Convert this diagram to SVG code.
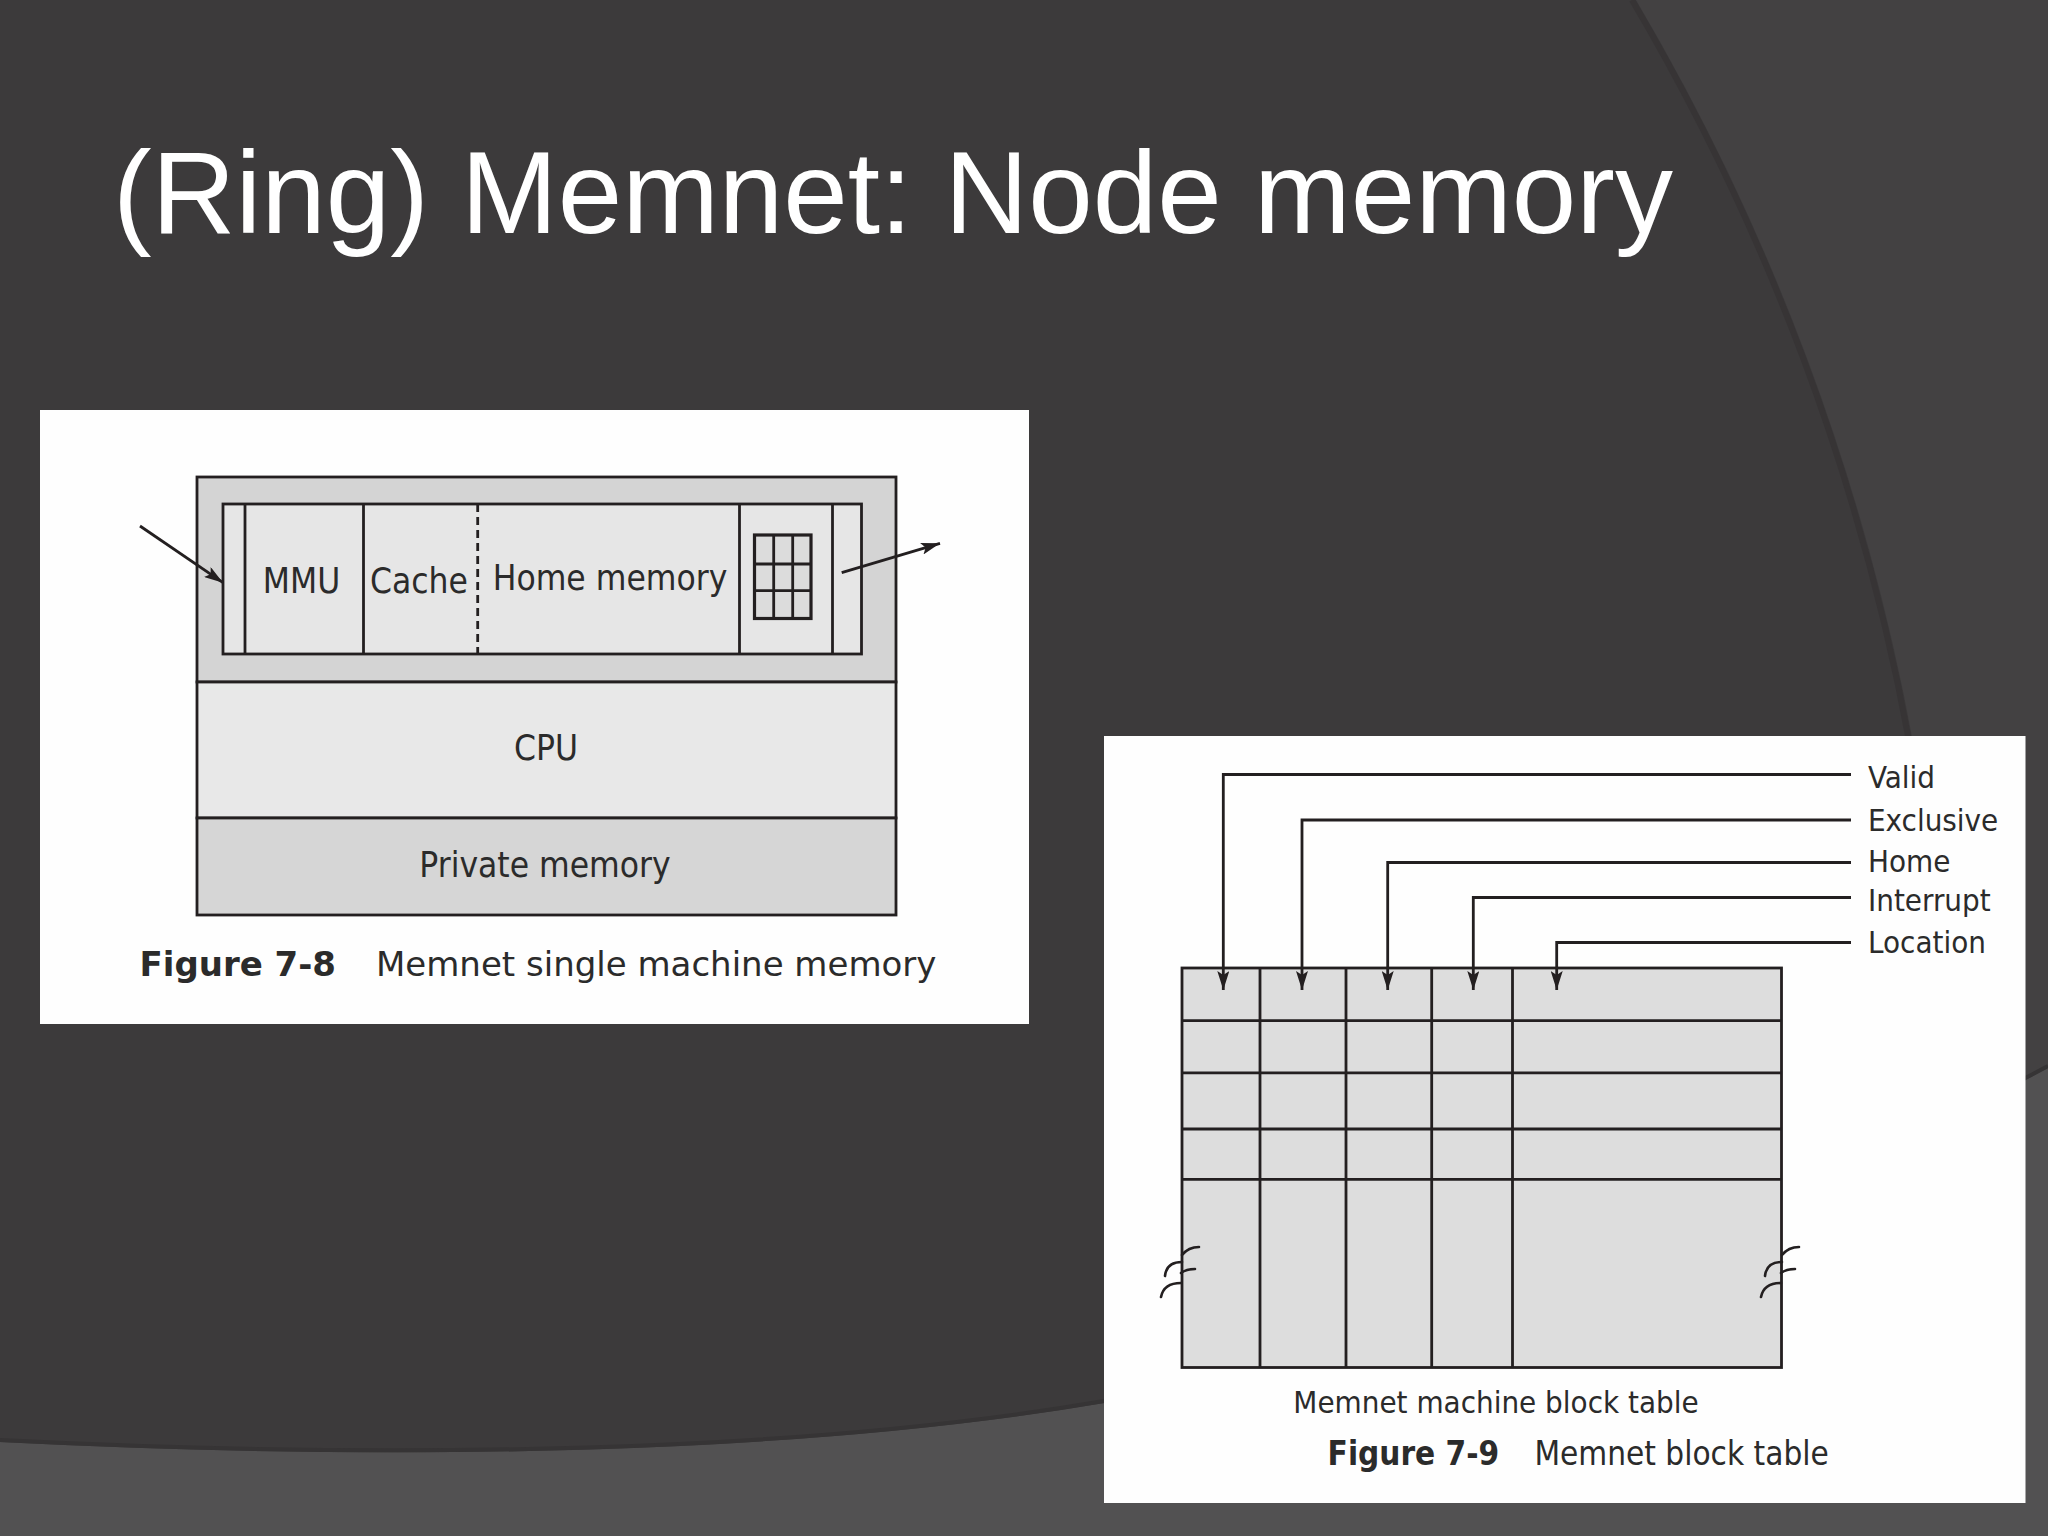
<svg xmlns="http://www.w3.org/2000/svg" width="2048" height="1536" viewBox="0 0 2048 1536">
<defs>
<style>
.ln{stroke:#231f20;stroke-width:2.8;fill:none}
.bx{stroke:#231f20;stroke-width:2.8}
.lbl{font-family:"DejaVu Sans Condensed","DejaVu Sans",sans-serif;font-stretch:condensed;font-size:35px;fill:#2b2b2b;text-anchor:middle}
.tl{font-family:"DejaVu Sans Condensed","DejaVu Sans",sans-serif;font-stretch:condensed;font-size:31px;fill:#2b2b2b}
.cap{font-family:"DejaVu Sans",sans-serif;font-size:34px;fill:#2b2b2b}
.capc{font-family:"DejaVu Sans Condensed","DejaVu Sans",sans-serif;font-stretch:condensed;font-size:33px;fill:#2b2b2b}
.b{font-weight:bold}
.brk{stroke:#231f20;stroke-width:2.6;fill:none;stroke-linecap:round}
</style>
<marker id="ah" viewBox="0 0 19 12" refX="19" refY="6" markerWidth="19" markerHeight="12" orient="auto" markerUnits="userSpaceOnUse">
<path d="M0,0 L19,6 L0,12 L4,6 Z" fill="#231f20"/>
</marker>
<g id="brk">
<path class="brk" d="M1165,1276 C1166,1266 1172,1262 1182,1262 M1182,1255 C1186,1250 1192,1247 1199,1247"/>
<path class="brk" d="M1161,1297 C1163,1287 1170,1283 1181,1283 M1181,1273 C1185,1270 1189,1269 1195,1269"/>
</g>
</defs>

<g id="background">
<rect x="0" y="0" width="2048" height="1536" fill="#3c3a3b"/>
<path d="M1636,0 A2263,2263 0 0 1 1917,1536 L2048,1536 L2048,0 Z" fill="#434142"/>
<path d="M1632,0 A2259,2259 0 0 1 1913,1536" fill="none" stroke="#333132" stroke-width="6" opacity="0.6"/>
<path d="M0,1442 C400,1462 800,1455 1104,1403 C1500,1335 1800,1200 2048,1068 L2048,1536 L0,1536 Z" fill="#525152"/>
<path d="M0,1440 C400,1460 800,1453 1104,1401 C1500,1333 1800,1198 2048,1066" fill="none" stroke="#363435" stroke-width="4"/>
</g>

<g id="title">
<text x="113" y="233" font-family="Liberation Sans, Arial, sans-serif" font-size="116" fill="#ffffff">(Ring) Memnet: Node memory</text>
</g>

<g id="fig78">
<rect x="40" y="410" width="989" height="614" fill="#fefefe"/>
<g id="ring-interface">
<rect class="bx" x="197" y="477" width="699" height="205" fill="#d4d4d4"/>
<rect class="bx" x="223" y="504" width="638.5" height="150" fill="#e6e6e6"/>
<line class="ln" x1="245" y1="504" x2="245" y2="654"/>
<line class="ln" x1="739.5" y1="504" x2="739.5" y2="654"/>
<line class="ln" x1="832.5" y1="504" x2="832.5" y2="654"/>
</g>
<g id="mmu">
<line class="ln" x1="363.5" y1="504" x2="363.5" y2="654"/>
<text class="lbl" x="301.5" y="593">MMU</text>
</g>
<g id="cache">
<line class="ln" x1="477.7" y1="504" x2="477.7" y2="654" stroke-dasharray="8,5"/>
<text class="lbl" x="419" y="593">Cache</text>
</g>
<g id="home-memory">
<text class="lbl" x="610" y="590">Home memory</text>
</g>
<g id="block-grid">
<rect x="754.5" y="535" width="56.5" height="83.5" fill="#dcdcdc" stroke="#231f20" stroke-width="3.2"/>
<path class="ln" d="M773.7,535 V618.5 M792.7,535 V618.5 M754.5,564 H811 M754.5,590.7 H811"/>
</g>
<g id="cpu">
<rect class="bx" x="197" y="682" width="699" height="136" fill="#e8e8e8"/>
<text class="lbl" x="546" y="760">CPU</text>
</g>
<g id="private-memory">
<rect class="bx" x="197" y="818" width="699" height="97" fill="#d6d6d6"/>
<text class="lbl" x="545" y="877">Private memory</text>
</g>
<g id="caption78">
<text class="cap" x="139.5" y="975.5"><tspan class="b">Figure 7-8</tspan><tspan x="376">Memnet single machine memory</tspan></text>
</g>
</g>

<g id="fig79">
<rect x="1104" y="736" width="921.5" height="767" fill="#fefefe"/>
<g id="block-table">
<rect class="bx" x="1182" y="968" width="599.5" height="399.5" fill="#dddddd"/>
<path class="ln" d="M1182,1020.7 H1781.5 M1182,1072.8 H1781.5 M1182,1129 H1781.5 M1182,1179.4 H1781.5 M1260,968 V1367.5 M1346,968 V1367.5 M1431.7,968 V1367.5 M1512.5,968 V1367.5"/>
<use href="#brk"/>
<use href="#brk" transform="translate(600,0)"/>
</g>
<g id="label-valid"><text class="tl" x="1868" y="788">Valid</text></g>
<g id="label-exclusive"><text class="tl" x="1868" y="831">Exclusive</text></g>
<g id="label-home"><text class="tl" x="1868" y="872">Home</text></g>
<g id="label-interrupt"><text class="tl" x="1868" y="910.5">Interrupt</text></g>
<g id="label-location"><text class="tl" x="1868" y="953">Location</text></g>
<text class="tl" x="1496" y="1412.7" text-anchor="middle">Memnet machine block table</text>
<g id="caption79">
<text class="capc" x="1327.6" y="1464.6"><tspan class="b">Figure 7-9</tspan><tspan x="1534.4">Memnet block table</tspan></text>
</g>
</g>

<g id="connectors">
<path class="ln" d="M140,526 L223,582.7" marker-end="url(#ah)"/>
<path class="ln" d="M841.7,572.7 L940,543.3" marker-end="url(#ah)"/>
<path class="ln" d="M1851,774.5 H1223.3 V990" marker-end="url(#ah)"/>
<path class="ln" d="M1851,820 H1302 V990" marker-end="url(#ah)"/>
<path class="ln" d="M1851,862.5 H1387.7 V990" marker-end="url(#ah)"/>
<path class="ln" d="M1851,897.5 H1473.3 V990" marker-end="url(#ah)"/>
<path class="ln" d="M1851,942.5 H1556.7 V990" marker-end="url(#ah)"/>
</g>
</svg>
